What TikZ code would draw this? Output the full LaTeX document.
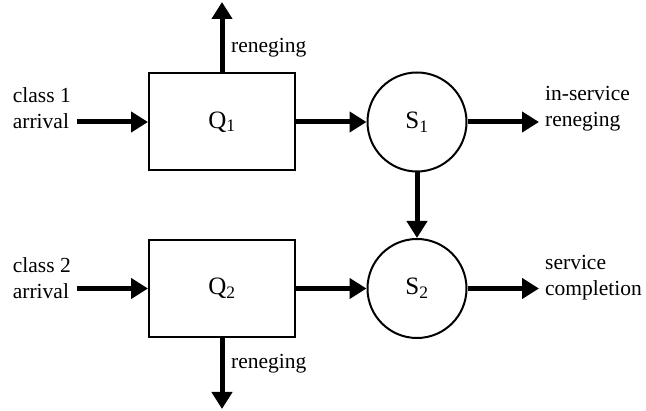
\documentclass[tikz,border=0pt]{standalone}
\usepackage{fontspec}
\setmainfont{Liberation Serif}
\usetikzlibrary{arrows.meta}
\begin{document}
\begin{tikzpicture}[x=1pt,y=-1pt,
  queue/.style={draw,line width=2pt,minimum width=146pt,minimum height=97pt,inner sep=0pt,
    font=\fontsize{25}{28}\selectfont},
  server/.style={draw,circle,line width=2pt,minimum size=99pt,inner sep=0pt,
    font=\fontsize{25}{28}\selectfont},
  flow/.style={line width=5pt,-{Triangle[length=17pt,width=20pt]}},
  lbl/.style={font=\fontsize{21.5}{26}\selectfont,align=left,inner sep=0pt}]
\useasboundingbox (0,0) rectangle (646,411);

% queues and servers
\node[queue] (q1) at (222,122) {Q\textsubscript{1}};
\node[queue] (q2) at (222,288.5) {Q\textsubscript{2}};
\node[server] (s1) at (417,122) {S\textsubscript{1}};
\node[server] (s2) at (417,288.5) {S\textsubscript{2}};

% free ends of the flows
\coordinate (in1) at (77,122);
\coordinate (in2) at (77,288.5);
\coordinate (up1) at (222,2);
\coordinate (dn2) at (222,409);
\coordinate (out1) at (539,122);
\coordinate (out2) at (539,288.5);

% flows
\draw[flow] (in1) -- (q1.west);
\draw[flow] (in2) -- (q2.west);
\draw[flow] (q1.north) -- (up1);
\draw[flow] (q2.south) -- (dn2);
\draw[flow] (q1.east) -- (s1.west);
\draw[flow] (q2.east) -- (s2.west);
\draw[flow] (s1.south) -- (s2.north);
\draw[flow] (s1.east) -- (out1);
\draw[flow] (s2.east) -- (out2);

% labels
\node[lbl,anchor=east] (a1) at (71,108) {class 1\\arrival};
\node[lbl,anchor=east] (a2) at (71,278) {class 2\\arrival};
\node[lbl,anchor=west] (r1) at (231,48) {reneging};
\node[lbl,anchor=west] (r2) at (231,364) {reneging};
\node[lbl,anchor=west] (o1) at (545,109) {in-service\\reneging};
\node[lbl,anchor=west] (o2) at (545,278) {service\\completion};
\end{tikzpicture}
\end{document}
